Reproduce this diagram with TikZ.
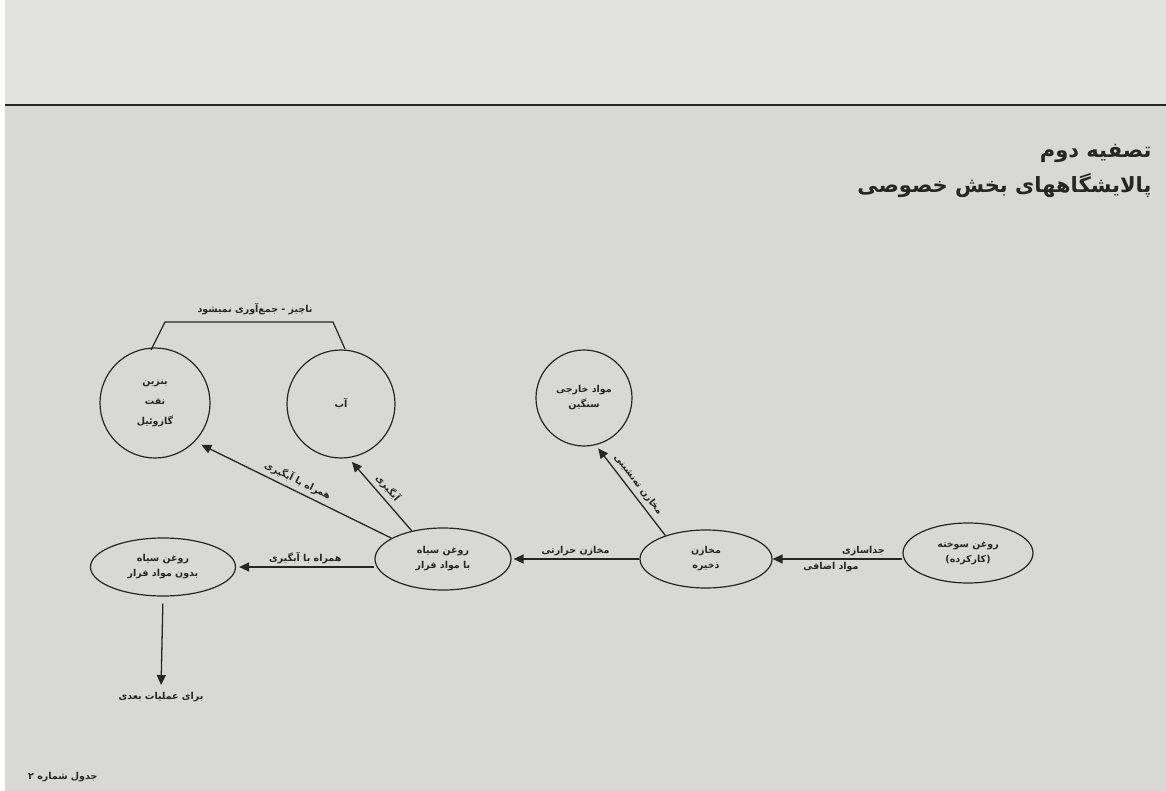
\documentclass[tikz,border=0pt]{standalone}
\usepackage{fontspec}
\usetikzlibrary{shapes.geometric,arrows.meta}
\newfontfamily\arabicfont[Script=Arabic, BoldFont={DejaVu Sans Bold}]{DejaVu Sans}
\TeXXeTstate=1
\newcommand{\fa}[1]{{\arabicfont\bfseries\beginR #1\endR}}
\definecolor{paper}{HTML}{D8D8D6}
\definecolor{paperTop}{HTML}{E2E2E0}
\definecolor{ink}{HTML}{262626}
\tikzset{
  outline/.style={draw=ink, line width=1.2pt},
  bubble/.style={outline, circle, align=center, font=\fontsize{9.5}{20}\selectfont, text=ink},
  oval/.style={outline, ellipse, align=center, inner sep=1pt, font=\fontsize{9.5}{15}\selectfont, text=ink},
  flow/.style={draw=ink, line width=1.3pt, -{Triangle[length=10pt,width=9pt]}},
  tag/.style={font=\fontsize{9.5}{12}\selectfont, text=ink, inner sep=3pt},
  slopetag/.style={tag, sloped, above=3pt, inner sep=1pt},
}
\begin{document}
\begin{tikzpicture}[x=1pt,y=-1pt]
  \useasboundingbox (0,0) rectangle (1166,791);
  % paper
  \fill[paper] (0,0) rectangle (1166,791);
  \fill[paperTop] (0,0) rectangle (1166,105);
  \fill[white] (0,0) rectangle (5,791);
  \draw[ink, line width=1.6pt] (5,105) -- (1166,105);

  % heading
  \node[anchor=east, text=ink, font=\fontsize{21}{24}\selectfont] (t1) at (1155,153) {\fa{تصفیه دوم}};
  \node[anchor=east, text=ink, font=\fontsize{21}{24}\selectfont] (t2) at (1155,186) {\fa{پالایشگاههای بخش خصوصی}};

  % products
  \node[bubble, minimum size=110pt] (fuel) at (155,403) {\fa{بنزین}\\\fa{نفت}\\\fa{گازوئیل}};
  \node[bubble, minimum size=108pt] (water) at (341,404) {\fa{آب}};
  \node[bubble, minimum size=96pt] (heavy) at (584,398) {\fa{مواد خارجی}\\[-5pt]\fa{سنگین}};

  % process stages
  \node[oval, minimum width=145pt, minimum height=58pt] (clean) at (163,567) {\fa{روغن سیاه}\\\fa{بدون مواد فرار}};
  \node[oval, minimum width=136pt, minimum height=62pt] (black) at (443,559) {\fa{روغن سیاه}\\\fa{با مواد فرار}};
  \node[oval, minimum width=132pt, minimum height=58pt] (store) at (706,559) {\fa{مخازن}\\\fa{ذخیره}};
  \node[oval, minimum width=130pt, minimum height=60pt] (used) at (968,553) {\fa{روغن سوخته}\\\fa{(کارکرده)}};

  % bracket over the two circles
  \coordinate (bl) at (151,350);
  \coordinate (br) at (345,349);
  \draw[outline] (bl) -- (165,322) -- (333,322) -- (br);
  \node[tag] (brlabel) at (255,309) {\fa{ناچیز - جمع‌آوری نمیشود}};

  % flows
  \draw[flow] (used.west |- store.east) -- node[tag, above, pos=0.3] {\fa{جداسازی}} node[tag, below, pos=0.55] {\fa{مواد اضافی}} (store.east);
  \draw[flow, shorten >=2pt] (store.west) -- node[tag, above] {\fa{مخازن حرارتی}} (black.east);
  \draw[flow, shorten >=4pt] (store.150) -- node[slopetag] {\fa{مخازن ته‌نشینی}} (heavy.-76);
  \draw[flow, shorten >=7pt] (black.158) -- node[slopetag] {\fa{همراه با آبگیری}} (fuel.-44);
  \draw[flow, shorten >=5pt] (black.138) -- node[slopetag] {\fa{آبگیری}} (water.-82);
  \draw[flow, shorten >=3pt] (black.west |- clean.east) -- node[tag, above] {\fa{همراه با آبگیری}} (clean.east);

  \node[tag] (next) at (161,697) {\fa{برای عملیات بعدی}};
  \draw[flow, shorten <=7pt, shorten >=4pt] (clean.south) -- (next.north);

  % caption
  \node[anchor=west, tag] (cap) at (25,777) {\fa{جدول شماره ۲}};
\end{tikzpicture}
\end{document}
